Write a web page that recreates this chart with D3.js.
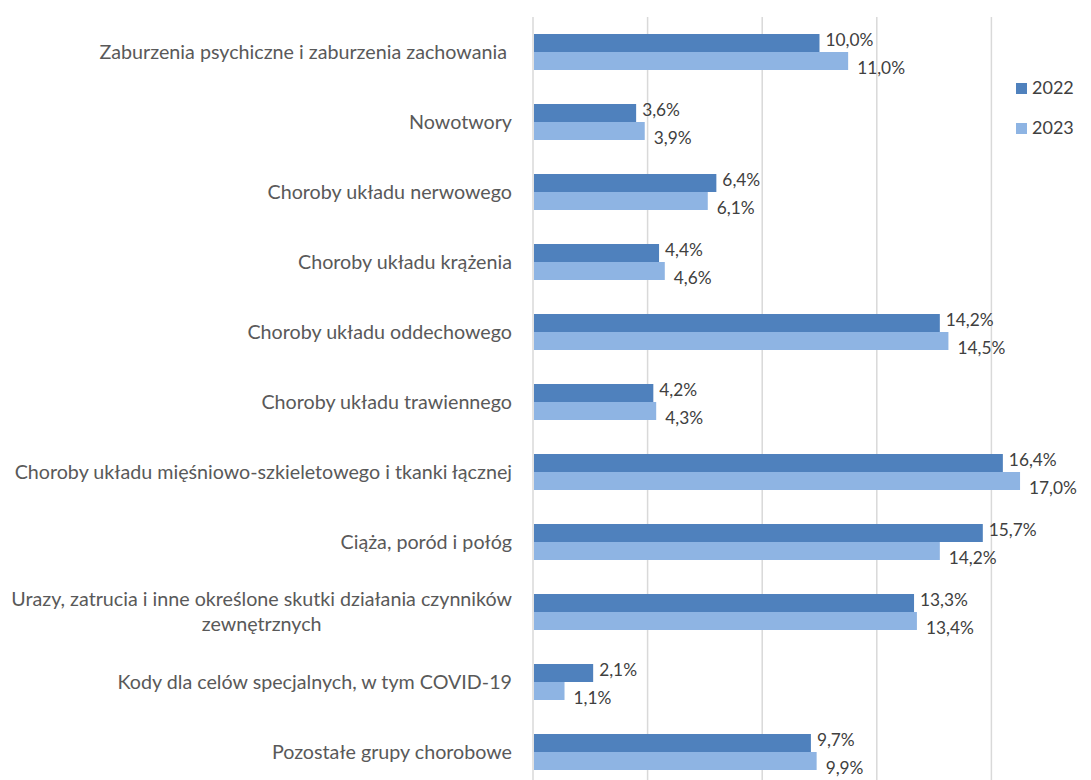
<!DOCTYPE html>
<html>
<head>
<meta charset="utf-8">
<script src="https://cdn.jsdelivr.net/npm/d3@7"></script>
<style>
  body { margin: 0; background: #fff; }
  svg text { font-family: Lato, "Open Sans", sans-serif; fill: #595959; white-space: pre; }
</style>
</head>
<body>
<div id="app"></div>
<script>
// data
const categories = [
  'Zaburzenia psychiczne i zaburzenia zachowania ',
  'Nowotwory',
  'Choroby układu nerwowego',
  'Choroby układu krążenia',
  'Choroby układu oddechowego',
  'Choroby układu trawiennego',
  'Choroby układu mięśniowo-szkieletowego i tkanki łącznej',
  'Ciąża, poród i połóg',
  'Urazy, zatrucia i inne określone skutki działania czynników|zewnętrznych',
  'Kody dla celów specjalnych, w tym COVID-19',
  'Pozostałe grupy chorobowe'
];
const values2022 = [10.0, 3.6, 6.4, 4.4, 14.2, 4.2, 16.4, 15.7, 13.3, 2.1, 9.7];
const values2023 = [11.0, 3.9, 6.1, 4.6, 14.5, 4.3, 17.0, 14.2, 13.4, 1.1, 9.9];
const seriesNames = ['2022', '2023'];
const colors = ['#4f81bd', '#8eb4e3'];
const gridTicks = [0, 4, 8, 12, 16, 20];

const W = 1091, H = 780;
const plot = {left: 533, right: 1106, top: 17, bottom: 787};
const FS = 19.7, VFS = 17.3;

const svg = d3.select('#app').append('svg')
  .attr('width', W).attr('height', H);

const x = d3.scaleLinear().domain([0, 20]).range([plot.left, plot.right]);
const y = d3.scaleBand().domain(categories).range([plot.top, plot.bottom])
  .paddingInner(0.486).paddingOuter(0.243);
const y1 = d3.scaleBand().domain(seriesNames).range([0, y.bandwidth()]);

// gridlines
svg.append('g').selectAll('line')
  .data(gridTicks).enter()
  .append('line')
  .attr('x1', d => x(d)).attr('x2', d => x(d))
  .attr('y1', plot.top).attr('y2', H)
  .attr('stroke', '#d9d9d9').attr('stroke-width', 1.5);

const fmt = v => v.toFixed(1).replace('.', ',') + '%';
const series = [values2022, values2023];

const groups = svg.append('g').selectAll('g.cat')
  .data(categories).enter()
  .append('g').attr('class', 'cat')
  .attr('transform', d => `translate(0,${y(d)})`);

series.forEach((vals, si) => {
  groups.append('rect')
    .attr('x', x(0) + 1)
    .attr('y', y1(seriesNames[si]))
    .attr('width', (d, i) => x(vals[i]) - x(0) - 1)
    .attr('height', y1.bandwidth())
    .attr('fill', colors[si]);

  groups.append('text')
    .attr('x', (d, i) => x(vals[i]) + (si === 0 ? 6 : 9))
    .attr('y', y1(seriesNames[si]) + y1.bandwidth() / 2 + (si === 0 ? -3 : 7))
    .attr('dy', '0.35em')
    .attr('font-size', VFS)
    .style('fill', '#404040')
    .text((d, i) => fmt(vals[i]));
});

// category labels
groups.each(function(d) {
  const lines = d.split('|');
  const g = d3.select(this);
  const cy = y.bandwidth() / 2;
  if (lines.length === 1) {
    g.append('text')
      .attr('x', 512).attr('y', cy).attr('dy', '0.35em')
      .attr('text-anchor', 'end').attr('font-size', FS)
      .text(lines[0]);
  } else {
    const t = g.append('text').attr('font-size', FS).attr('text-anchor', 'middle');
    const tmp = g.append('text').attr('font-size', FS).text(lines[0]);
    const w = tmp.node().getComputedTextLength();
    tmp.remove();
    lines.forEach((ln, k) => {
      t.append('tspan').attr('x', 512 - w / 2)
        .attr('y', cy + (k - (lines.length - 1) / 2) * 25).attr('dy', '0.35em')
        .text(ln);
    });
  }
});

// legend
const legend = svg.append('g').selectAll('g')
  .data(seriesNames).enter()
  .append('g')
  .attr('transform', (d, i) => `translate(1016,${88 + i * 40})`);
legend.append('rect').attr('x', 0).attr('y', -5).attr('width', 11).attr('height', 11)
  .attr('fill', (d, i) => colors[i]);
legend.append('text').attr('x', 16).attr('y', 0).attr('dy', '0.35em')
  .attr('font-size', 18).style('fill', '#404040').text(d => d);
</script>
</body>
</html>
